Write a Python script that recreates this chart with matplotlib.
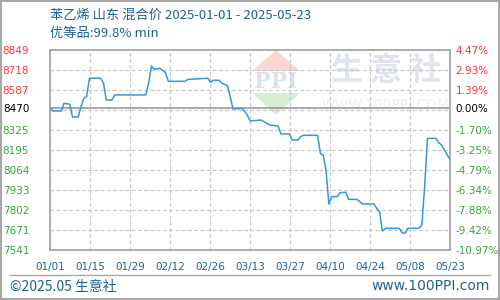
#!/usr/bin/env python3

import matplotlib
matplotlib.use('Agg')
import matplotlib.pyplot as plt
from matplotlib.patches import Polygon, Rectangle
import numpy as np
import pandas as pd

plt.rcParams['font.family'] = ['Noto Sans CJK SC', 'DejaVu Sans']

# Price data (yuan/ton)
dates = ['2025-01-01', '2025-01-02', '2025-01-05', '2025-01-06', '2025-01-08', '2025-01-09',
         '2025-01-11', '2025-01-12', '2025-01-13', '2025-01-14', '2025-01-15', '2025-01-19',
         '2025-01-20', '2025-01-21', '2025-01-23', '2025-01-24', '2025-02-04', '2025-02-05',
         '2025-02-06', '2025-02-07', '2025-02-09', '2025-02-11', '2025-02-12', '2025-02-18',
         '2025-02-19', '2025-02-26', '2025-02-27', '2025-02-28', '2025-03-02', '2025-03-03',
         '2025-03-05', '2025-03-06', '2025-03-07', '2025-03-10', '2025-03-11', '2025-03-12',
         '2025-03-13', '2025-03-17', '2025-03-20', '2025-03-23', '2025-03-24', '2025-03-27',
         '2025-03-28', '2025-03-30', '2025-03-31', '2025-04-01', '2025-04-06', '2025-04-07',
         '2025-04-08', '2025-04-09', '2025-04-10', '2025-04-11', '2025-04-13', '2025-04-14',
         '2025-04-16', '2025-04-17', '2025-04-20', '2025-04-21', '2025-04-22', '2025-04-26',
         '2025-04-27', '2025-04-28', '2025-04-29', '2025-04-30', '2025-05-05', '2025-05-06',
         '2025-05-07', '2025-05-08', '2025-05-12', '2025-05-13', '2025-05-14', '2025-05-15',
         '2025-05-18', '2025-05-19', '2025-05-20', '2025-05-21', '2025-05-23']
prices = [8470, 8450, 8450, 8500, 8494, 8411,
          8411, 8478, 8533, 8544, 8664, 8664,
          8631, 8522, 8522, 8555, 8555, 8631,
          8744, 8723, 8729, 8701, 8644, 8644,
          8657, 8664, 8638, 8651, 8651, 8631,
          8616, 8540, 8463, 8467, 8450, 8424,
          8385, 8391, 8358, 8352, 8300, 8300,
          8260, 8260, 8282, 8291, 8291, 8173,
          8162, 8060, 7842, 7890, 7890, 7916,
          7918, 7872, 7872, 7857, 7842, 7842,
          7813, 7791, 7665, 7683, 7683, 7654,
          7650, 7683, 7683, 7704, 7955, 8271,
          8271, 8243, 8228, 8195, 8133]

base_price = 8470
y_min, y_max = 7541, 8849
x_labels = ['01/01', '01/15', '01/29', '02/12', '02/26', '03/13',
            '03/27', '04/10', '04/24', '05/08', '05/23']
# bottom to top; the fourth from the top sits on the base price
price_labels = ['7541', '7671', '7802', '7933', '8064', '8195',
                '8325', '8470', '8587', '8718', '8849']
pct_labels = ['-10.97%', '-9.42%', '-7.88%', '-6.34%', '-4.79%', '-3.25%',
              '-1.70%', '0.00%', '1.39%', '2.93%', '4.47%']

title_color = '#1d6390'
line_color = '#3399dd'
grid_color = '#c8c8c8'
frame_color = '#a0a0a0'
up_color = '#ff3333'
down_color = '#33aa33'

start = pd.Timestamp(dates[0])
days = np.array([(pd.Timestamp(d) - start).days for d in dates])
total_days = (pd.Timestamp(dates[-1]) - start).days

fig = plt.figure(figsize=(5, 3), dpi=100)
fig.patches.append(Rectangle((0.001, 0.002), 0.997, 0.995, transform=fig.transFigure,
                             fill=False, edgecolor='#a8a8a8', linewidth=1.5))
ax = fig.add_axes([0.1, 0.1667, 0.8, 0.6667])
ax.set_xlim(0, total_days)
ax.set_ylim(y_min, y_max)

# dashed grid
grid_y = np.linspace(y_min, y_max, 11)
grid_x = np.linspace(0, total_days, 11)
for gy in grid_y[1:-1]:
    ax.axhline(gy, color=grid_color, linestyle=(0, (3, 2)), linewidth=0.9, zorder=1)
for gx in grid_x[1:-1]:
    ax.axvline(gx, color=grid_color, linestyle=(0, (3, 2)), linewidth=0.9, zorder=1)

# watermark
wm = dict(transform=ax.transAxes, zorder=0)
ax.add_patch(Polygon([[0.505, 0.895], [0.565, 1.0], [0.625, 0.895]], closed=True,
                     facecolor='#fbd6d3', edgecolor='none', **wm))
ax.add_patch(Polygon([[0.505, 0.785], [0.565, 0.675], [0.625, 0.785]], closed=True,
                     facecolor='#d6eed6', edgecolor='none', **wm))
ax.text(0.565, 0.838, 'PPI', fontsize=16, fontweight='bold', color='#dbe2ee',
        ha='center', va='center', family='DejaVu Serif', **wm)
ax.text(0.84, 0.895, '生 意 社', fontsize=23, fontweight='bold', color='#e0e4ec',
        ha='center', va='center', **wm)
ax.text(0.84, 0.725, 'WWW.100PPI.COM', fontsize=10, color='#eceef2',
        ha='center', va='center', family='DejaVu Sans', **wm)

# base price line
ax.axhline(base_price, color='#999999', linewidth=1.2, zorder=2)

ax.plot(days, prices, color=line_color, linewidth=1.1, zorder=3)

for s in ax.spines.values():
    s.set_color(frame_color)
    s.set_linewidth(1.2)

# tick positions: even grid, except the base price label
tick_y = list(grid_y)
tick_y[7] = base_price
tick_colors = [up_color if i > 7 else ('black' if i == 7 else down_color)
               for i in range(len(tick_y))]

ax.set_yticks(tick_y)
ax.set_yticklabels(price_labels, fontsize=7.5, family='DejaVu Sans')
ax.tick_params(axis='y', length=0, pad=15)
for lbl, c in zip(ax.get_yticklabels(), tick_colors):
    lbl.set_color(c)

ax2 = ax.twinx()
ax2.set_ylim(y_min, y_max)
ax2.set_yticks(tick_y)
ax2.set_yticklabels(pct_labels, fontsize=7.5, family='DejaVu Sans')
ax2.tick_params(axis='y', length=0, pad=4)
for lbl, c in zip(ax2.get_yticklabels(), tick_colors):
    lbl.set_color(c)
for s in ax2.spines.values():
    s.set_visible(False)

ax.set_xticks(grid_x)
ax.set_xticklabels(x_labels, fontsize=7.5, color=title_color, family='DejaVu Sans')
ax.tick_params(axis='x', length=0, pad=9)

# titles
fig.text(0.1, 0.948, '苯乙烯 山东 混合价 2025-01-01 - 2025-05-23', fontsize=9.5,
         color=title_color, ha='left', va='center')
fig.text(0.1, 0.888, '优等品:99.8% min', fontsize=9.5, color=title_color,
         ha='left', va='center')

# footer
fig.add_artist(plt.Line2D([0.02, 0.98], [0.083, 0.083], transform=fig.transFigure,
                          color='#a8a8a8', linewidth=1))
fig.text(0.02, 0.045, '©2025.05 生意社', fontsize=10, color=title_color,
         ha='left', va='center')
fig.text(0.98, 0.045, 'www.100PPI.com', fontsize=10, color=title_color,
         ha='right', va='center', family='DejaVu Sans')

plt.savefig('out.png', dpi=100)
